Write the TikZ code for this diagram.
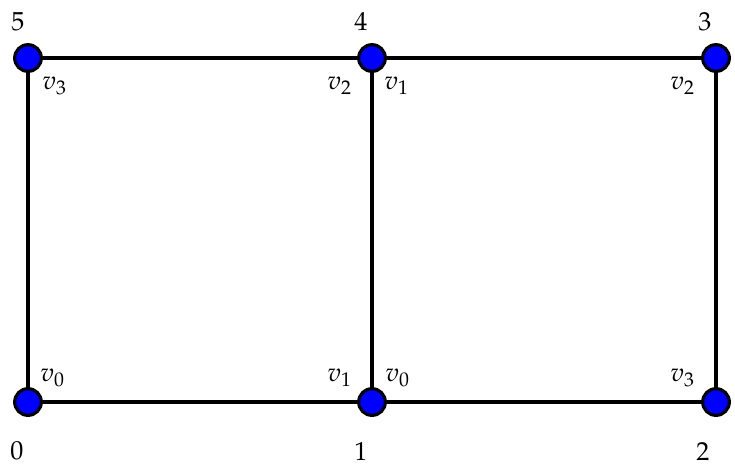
\documentclass[tikz,border=0pt]{standalone}
\usepackage[T1]{fontenc}
\usepackage{mathpazo}
\usepackage{tikz}
\usetikzlibrary{positioning}

\begin{document}
\begin{tikzpicture}[x=0.1348mm, y=-0.1348mm,
  vert/.style={circle, draw=black, fill=blue, line width=1.2pt,
               minimum size=3.6mm, inner sep=0pt},
  edge/.style={line width=1.7pt},
  lbl/.style={inner sep=0pt}]
  \useasboundingbox (0,0) rectangle (735,465);
  % edges first, vertices on top
  \coordinate (p0) at (28,402);
  \coordinate (p1) at (372,402);
  \coordinate (p2) at (716,402);
  \coordinate (p3) at (716,58);
  \coordinate (p4) at (372,58);
  \coordinate (p5) at (28,58);
  \draw[edge] (p0) -- (p1) -- (p2) -- (p3) -- (p4) -- (p5) -- cycle;
  \draw[edge] (p1) -- (p4);
  \node[vert] (n0) at (p0) {};
  \node[vert] (n1) at (p1) {};
  \node[vert] (n2) at (p2) {};
  \node[vert] (n3) at (p3) {};
  \node[vert] (n4) at (p4) {};
  \node[vert] (n5) at (p5) {};
  % vertex numbers
  \node[lbl] (l5) at ([shift={(-10,-36)}]n5.center) {5};
  \node[lbl] (l4) at ([shift={(-11,-37)}]n4.center) {4};
  \node[lbl] (l3) at ([shift={(-11,-36)}]n3.center) {3};
  \node[lbl] (l0) at ([shift={(-11,49)}]n0.center) {0};
  \node[lbl] (l1) at ([shift={(-11,49)}]n1.center) {1};
  \node[lbl] (l2) at ([shift={(-13,49)}]n2.center) {2};
  % local vertex labels
  \node[lbl] (a5) at ([shift={(27,28)}]n5.center) {$v_3$};
  \node[lbl] (a4l) at ([shift={(-32,28)}]n4.center) {$v_2$};
  \node[lbl] (a4r) at ([shift={(25,28)}]n4.center) {$v_1$};
  \node[lbl] (a3) at ([shift={(-33,28)}]n3.center) {$v_2$};
  \node[lbl] (a0) at ([shift={(25,-24)}]n0.center) {$v_0$};
  \node[lbl] (a1l) at ([shift={(-32,-24)}]n1.center) {$v_1$};
  \node[lbl] (a1r) at ([shift={(26,-24)}]n1.center) {$v_0$};
  \node[lbl] (a2) at ([shift={(-33,-24)}]n2.center) {$v_3$};
\end{tikzpicture}
\end{document}
